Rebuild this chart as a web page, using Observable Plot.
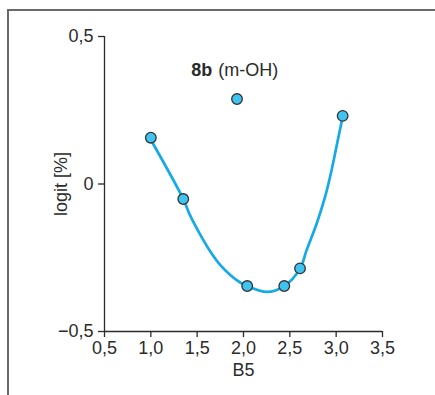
<!DOCTYPE html>
<html>
<head>
<meta charset="utf-8">
<script src="https://cdn.jsdelivr.net/npm/d3@7"></script>
<script src="https://cdn.jsdelivr.net/npm/@observablehq/plot@0.6"></script>
<style>
  html, body { margin: 0; padding: 0; background: #fff; }
  #wrap { position: relative; width: 435px; height: 395px; overflow: hidden; }
  #frame { position: absolute; left: 7px; top: 9px; width: 600px; height: 600px;
           border-left: 2px solid #6a6a6a; border-top: 2px solid #6a6a6a; }
  #chart { position: absolute; left: 0; top: 0; }
</style>
</head>
<body>
<div id="wrap"><div id="frame"></div><div id="chart"></div></div>
<script>
// Measured points (B5, logit)
const pointB5    = [1.00, 1.35, 1.93, 2.04, 2.44, 2.61, 3.07];
const pointLogit = [0.157, -0.051, 0.288, -0.346, -0.346, -0.286, 0.231];

// Fitted curve
const curveB5    = [1.00, 1.35, 1.42, 1.53, 1.64, 1.75, 1.86, 1.96, 2.04, 2.25, 2.44, 2.61, 2.68, 2.79, 2.88, 2.95, 3.01, 3.07];
const curveLogit = [0.150, -0.051, -0.104, -0.170, -0.228, -0.275, -0.309, -0.333, -0.346, -0.366, -0.346, -0.287, -0.225, -0.134, -0.044, 0.046, 0.137, 0.227];

// Tick labels
const xTicks = [0.5, 1.0, 1.5, 2.0, 2.5, 3.0, 3.5];
const yTicks = [-0.5, 0, 0.5];

// Annotation
const annotationBold = "8b";
const annotationText = "(m-OH)";
const annotationB5 = 1.7;
const annotationLogit = 0.385;

const points = pointB5.map((x, i) => ({x, y: pointLogit[i]}));
const curve = curveB5.map((x, i) => ({x, y: curveLogit[i]}));

const fmt = d => d === 0 ? "0" : d.toFixed(1).replace(".", ",").replace("-", "\u2212");
const ink = "#2b2b2b";
const font = "Liberation Sans, Arial, Helvetica, sans-serif";

const chart = Plot.plot({
  width: 435,
  height: 395,
  marginLeft: 104,
  marginRight: 53,
  marginTop: 36,
  marginBottom: 64,
  style: {background: "transparent", fontFamily: font, color: ink},
  x: {domain: [0.5, 3.5]},
  y: {domain: [-0.5, 0.5]},
  marks: [
    Plot.axisX({ticks: xTicks, tickFormat: fmt, tickSize: 6, tickPadding: 4, fontSize: 18,
      stroke: ink, strokeWidth: 1.3, label: "B5", labelAnchor: "center", labelArrow: "none", labelOffset: 44}),
    Plot.axisY({ticks: yTicks, tickFormat: fmt, tickSize: 6, tickPadding: 5, fontSize: 18,
      stroke: ink, strokeWidth: 1.3, label: "logit [%]", labelAnchor: "center", labelArrow: "none", labelOffset: 50}),
    Plot.ruleX([0.5], {stroke: ink, strokeWidth: 1.3}),
    Plot.ruleY([-0.5], {stroke: ink, strokeWidth: 1.3}),
    Plot.line(curve, {x: "x", y: "y", curve: "catmull-rom", stroke: "#15a9e5", strokeWidth: 2.7}),
    Plot.dot(points, {x: "x", y: "y", r: 5.3, fill: "#3fc3f0", stroke: "#333", strokeWidth: 1.3}),
    Plot.text([{x: annotationB5, y: annotationLogit}], {x: "x", y: "y", text: () => annotationBold,
      textAnchor: "end", dx: -3.5, fontWeight: "bold", fontSize: 18, fill: ink}),
    Plot.text([{x: annotationB5, y: annotationLogit}], {x: "x", y: "y", text: () => annotationText,
      textAnchor: "start", dx: 2.5, fontSize: 18, fill: ink})
  ]
});
document.getElementById("chart").appendChild(chart);
</script>
</body>
</html>
